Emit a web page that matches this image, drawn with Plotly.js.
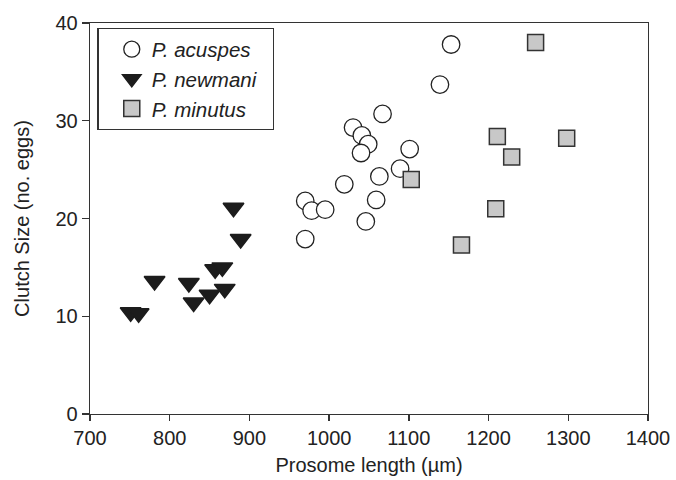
<!DOCTYPE html>
<html>
<head>
<meta charset="utf-8">
<script src="https://cdn.plot.ly/plotly-3.0.1.min.js"></script>
<style>html,body{margin:0;padding:0;background:#fff;}#chart{width:676px;height:480px;}</style>
</head>
<body>
<div id="chart"></div>
<script>
var acuspesX = [1153,1139,1067,1030,1041,1049,1040,1101,1089,1063,1019,1059,1046,970,978,995,970];
var acuspesY = [37.8,33.7,30.7,29.3,28.5,27.6,26.7,27.1,25.1,24.3,23.5,21.9,19.7,21.8,20.8,20.9,17.9];
var newmaniX = [880,889,857,866,781,824,869,850,830,751,761];
var newmaniY = [21.1,17.9,14.8,15.0,13.6,13.4,12.8,12.2,11.4,10.4,10.3];
var minutusX = [1259,1211,1298,1229,1103,1209,1166];
var minutusY = [38.0,28.4,28.2,26.3,24.0,21.0,17.3];
var seriesNames = ['P. acuspes', 'P. newmani', 'P. minutus'];
var xTicks = [700,800,900,1000,1100,1200,1300,1400];
var yTicks = [0,10,20,30,40];

var FONT = "Liberation Sans, Arial, sans-serif";
function legName(s) { return '<i>' + s + '</i>&nbsp;&nbsp;'; }
var traces = [
  {x: acuspesX, y: acuspesY, mode: 'markers', type: 'scatter', name: legName(seriesNames[0]),
   marker: {symbol: 'circle', size: 17.5, color: '#ffffff', line: {color: '#222', width: 1.3}}},
  {x: newmaniX, y: newmaniY, mode: 'markers', type: 'scatter', name: legName(seriesNames[1]),
   marker: {symbol: 'triangle-down', size: 18, color: '#1c1c1c', line: {color: '#1c1c1c', width: 1.5}}},
  {x: minutusX, y: minutusY, mode: 'markers', type: 'scatter', name: legName(seriesNames[2]),
   marker: {symbol: 'square', size: 16, color: '#c8c8c8', line: {color: '#333', width: 1.5}}}
];
var layout = {
  width: 676, height: 480,
  margin: {l: 89.5, r: 28, t: 23, b: 66},
  paper_bgcolor: '#fff', plot_bgcolor: '#fff',
  font: {family: FONT, size: 20, color: '#222'},
  showlegend: true,
  legend: {x: 0.0134, y: 0.987, xanchor: 'left', yanchor: 'top',
    bordercolor: '#333', borderwidth: 1.3, bgcolor: '#fff',
    font: {family: FONT, size: 20.5, color: '#222'}, indentation: 13},
  xaxis: {range: [700, 1400], tickvals: xTicks, ticktext: xTicks.map(String),
    showgrid: false, zeroline: false, showline: true, mirror: true,
    linecolor: '#333', linewidth: 1.3, ticks: 'outside', ticklen: 6, tickwidth: 1.3, tickcolor: '#333',
    tickfont: {family: FONT, size: 20, color: '#222'},
    title: {text: 'Prosome length (\u00b5m)', font: {family: FONT, size: 20, color: '#222'}, standoff: 9}},
  yaxis: {range: [0, 40], tickvals: yTicks, ticktext: yTicks.map(String),
    showgrid: false, zeroline: false, showline: true, mirror: true,
    linecolor: '#333', linewidth: 1.3, ticks: 'outside', ticklen: 7, tickwidth: 1.3, tickcolor: '#333',
    tickfont: {family: FONT, size: 20, color: '#222'},
    title: {text: 'Clutch Size (no. eggs)', font: {family: FONT, size: 20, color: '#222'}, standoff: 20}}
};
Plotly.newPlot('chart', traces, layout, {staticPlot: true, displayModeBar: false});
</script>
</body>
</html>
